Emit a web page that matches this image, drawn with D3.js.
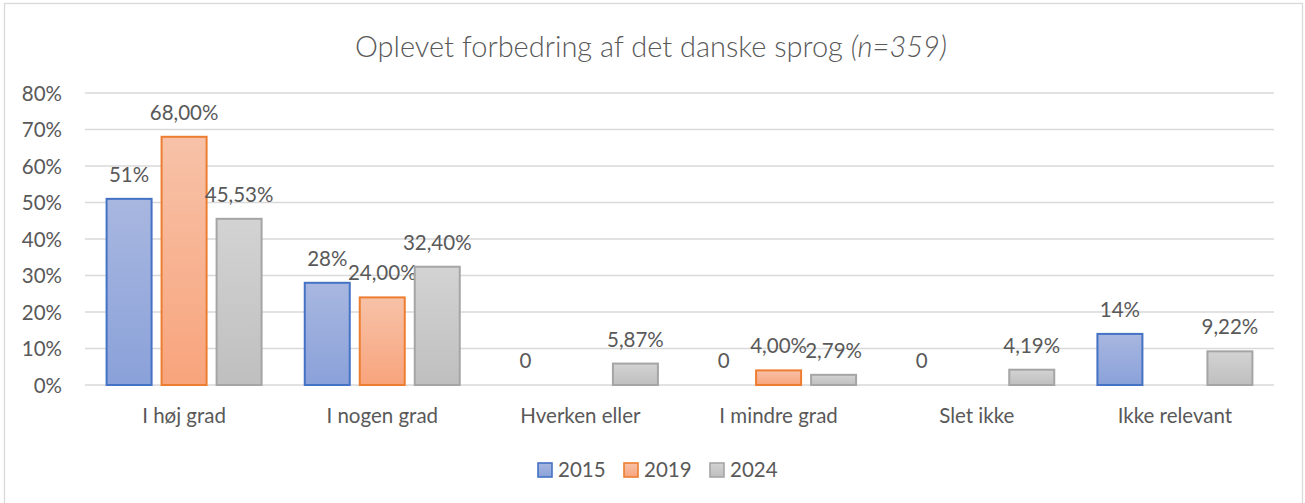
<!DOCTYPE html>
<html lang="da">
<head>
<meta charset="utf-8">
<style type="text/css">
body { margin: 0; background: #fff; }
svg { display: block; font-family: Lato, "Open Sans", sans-serif; }
.grid line { stroke: #d9d9d9; stroke-width: 1.3px; }
.lbl { fill: #595959; font-size: 20.5px; }
</style>
</head>
<body>
<svg width="1305" height="503"></svg>

<script src="https://cdn.jsdelivr.net/npm/d3@7/dist/d3.min.js"></script>
<script type="text/javascript">
// data
var categories = ["I høj grad", "I nogen grad", "Hverken eller", "I mindre grad", "Slet ikke", "Ikke relevant"];
var seriesNames = ["2015", "2019", "2024"];
var v2015 = [0.51, 0.28, 0, 0, 0, 0.14];
var v2019 = [0.68, 0.24, null, 0.04, null, null];
var v2024 = [0.4553, 0.3240, 0.0587, 0.0279, 0.0419, 0.0922];
var lbl2015 = ["51%", "28%", "0", "0", "0", "14%"];
var lbl2019 = ["68,00%", "24,00%", "", "4,00%", "", ""];
var lbl2024 = ["45,53%", "32,40%", "5,87%", "2,79%", "4,19%", "9,22%"];
var yTicks = [0, 0.1, 0.2, 0.3, 0.4, 0.5, 0.6, 0.7, 0.8];

var colors = [
    {stroke: "#4472c4", top: "#a8b7e0", bottom: "#8aa1d9"},
    {stroke: "#ed7d31", top: "#f7c2a8", bottom: "#f8a47c"},
    {stroke: "#a5a5a5", top: "#d3d3d3", bottom: "#bfbfbf"}
];

var allValues = [v2015, v2019, v2024];
var allLabels = [lbl2015, lbl2019, lbl2024];

var svg = d3.select("svg");

// outer chart frame
svg.append("rect")
    .attr("x", 4.5).attr("y", 3.5)
    .attr("width", 1298).attr("height", 510)
    .attr("fill", "none")
    .attr("stroke", "#d9d9d9")
    .attr("stroke-width", 1.3);

var defs = svg.append("defs");
colors.forEach(function (c, i) {
    var g = defs.append("linearGradient")
        .attr("id", "grad" + i)
        .attr("x1", 0).attr("y1", 0).attr("x2", 0).attr("y2", 1);
    g.append("stop").attr("offset", "0%").attr("stop-color", c.top);
    g.append("stop").attr("offset", "100%").attr("stop-color", c.bottom);
});

var x0 = d3.scaleBand()
    .domain(categories)
    .range([85, 1274]);

var groupW = 155;
var x1 = d3.scaleBand()
    .domain(seriesNames)
    .range([0, groupW])
    .paddingInner(10 / 55)
    .paddingOuter(0);

var y = d3.scaleLinear()
    .domain([0, 0.8])
    .range([385, 93]);

// title
var title = svg.append("text")
    .attr("x", 651)
    .attr("y", 57)
    .attr("text-anchor", "middle")
    .style("font-size", "29px")
    .style("font-weight", 300)
    .style("fill", "#595959");
title.append("tspan").text("Oplevet forbedring af det danske sprog ");
title.append("tspan").style("font-style", "italic").text("(n=359)");

// gridlines
svg.append("g")
    .attr("class", "grid")
    .selectAll("line")
    .data(yTicks)
    .enter()
    .append("line")
    .attr("x1", 85).attr("x2", 1274)
    .attr("y1", function (d) { return y(d); })
    .attr("y2", function (d) { return y(d); });

// y axis labels
var yAxis = d3.axisLeft(y)
    .tickValues(yTicks)
    .tickSize(0)
    .tickPadding(0)
    .tickFormat(d3.format(".0%"));

var yg = svg.append("g")
    .attr("transform", "translate(62,0)")
    .call(yAxis);
yg.select(".domain").remove();
yg.attr("font-size", null).attr("font-family", null);
yg.selectAll("text")
    .attr("class", "lbl")
    .attr("dy", "0.35em");

// bars
var groups = svg.append("g")
    .selectAll("g")
    .data(categories)
    .enter()
    .append("g")
    .attr("transform", function (d) {
        return "translate(" + (x0(d) + (x0.bandwidth() - groupW) / 2) + ",0)";
    });

groups.each(function (cat, ci) {
    var g = d3.select(this);
    seriesNames.forEach(function (s, si) {
        var v = allValues[si][ci];
        if (v === null) return;
        if (v > 0) {
            g.append("rect")
                .attr("x", x1(s))
                .attr("y", y(v))
                .attr("width", x1.bandwidth())
                .attr("height", y(0) - y(v))
                .attr("fill", "url(#grad" + si + ")")
                .attr("stroke", colors[si].stroke)
                .attr("stroke-width", 2);
        }
        g.append("text")
            .attr("class", "lbl")
            .attr("x", x1(s) + x1.bandwidth() / 2)
            .attr("y", y(v) - 17)
            .attr("text-anchor", "middle")
            .text(allLabels[si][ci]);
    });
});

// category labels
var xAxis = d3.axisBottom(x0).tickSize(0).tickPadding(0);
var xg = svg.append("g")
    .attr("transform", "translate(0,385)")
    .call(xAxis);
xg.select(".domain").remove();
xg.attr("font-size", null).attr("font-family", null);
xg.selectAll("text")
    .attr("class", "lbl")
    .attr("y", 38)
    .attr("dy", null);

// legend
var legendX = [538, 624, 710];
var legend = svg.append("g")
    .selectAll("g")
    .data(seriesNames)
    .enter()
    .append("g")
    .attr("transform", function (d, i) { return "translate(" + legendX[i] + ",463)"; });

legend.append("rect")
    .attr("width", 14).attr("height", 14)
    .attr("fill", function (d, i) { return "url(#grad" + i + ")"; })
    .attr("stroke", function (d, i) { return colors[i].stroke; })
    .attr("stroke-width", 1.6);

legend.append("text")
    .attr("class", "lbl")
    .attr("x", 20)
    .attr("y", 14)
    .text(function (d) { return d; });
</script>
</body>
</html>
